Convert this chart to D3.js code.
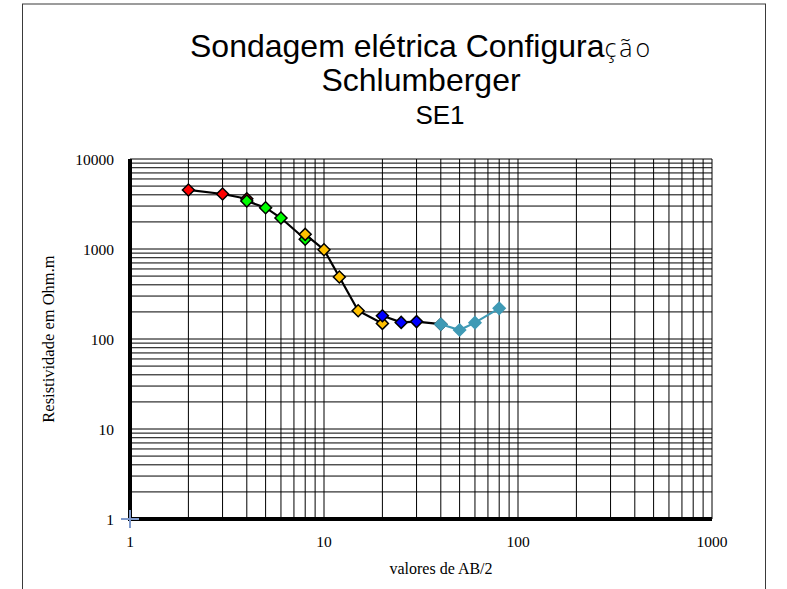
<!DOCTYPE html>
<html>
<head>
<meta charset="utf-8">
<script src="https://cdn.jsdelivr.net/npm/d3@7"></script>
<style>
  html, body { margin: 0; padding: 0; background: #fff; }
  svg { display: block; }
</style>
</head>
<body>
<svg id="chart" width="787" height="589"></svg>
<script>
// ---- data ----
const titleLines = ["Sondagem elétrica Configura", "Schlumberger", "SE1"];
const titleTail = "ção";
const xTickLabels = [1, 10, 100, 1000];
const yTickLabels = [1, 10, 100, 1000, 10000];
const xLabel = "valores de AB/2";
const yLabel = "Resistividade  em Ohm.m";

const redX = [2, 3, 4];
const redY = [4530, 4085, 3620];
const greenX = [4, 5, 6, 8];
const greenY = [3415, 2877, 2208, 1283];
const yellowX = [8, 10, 12, 15, 20];
const yellowY = [1456, 982, 489, 206, 149];
const blueX = [20, 25, 30, 40];
const blueY = [181, 153, 156, 146];
const tealX = [40, 50, 60, 80];
const tealY = [146, 126, 152, 219];
const originX = [1];
const originY = [1];

const svg = d3.select("#chart");

// frame
svg.append("rect")
  .attr("x", 22.5).attr("y", 4).attr("width", 743).attr("height", 620)
  .attr("fill", "none").attr("stroke", "#3a3a3a").attr("stroke-width", 1);

const x = d3.scaleLog().domain([1, 1000]).range([130, 712]);
const y = d3.scaleLog().domain([1, 10000]).range([519, 159]);

// grid values (1..9 per decade)
const xGrid = [];
for (let p = 1; p <= 100; p *= 10) for (let m = 1; m <= 9; m++) xGrid.push(m * p);
xGrid.push(1000);
const yGrid = [];
for (let p = 1; p <= 1000; p *= 10) for (let m = 1; m <= 9; m++) yGrid.push(m * p);
yGrid.push(10000);

const grid = svg.append("g");
grid.selectAll("line.v").data(xGrid).join("line").attr("class", "v")
  .attr("x1", d => x(d)).attr("x2", d => x(d))
  .attr("y1", y(10000)).attr("y2", y(1))
  .attr("stroke", "#000").attr("stroke-width", 1);
grid.selectAll("line.h").data(yGrid).join("line").attr("class", "h")
  .attr("x1", x(1)).attr("x2", x(1000))
  .attr("y1", d => y(d)).attr("y2", d => y(d))
  .attr("stroke", "#000").attr("stroke-width", 1);

// axes (thick)
svg.append("line").attr("x1", x(1)).attr("x2", x(1)).attr("y1", y(10000)).attr("y2", y(1) + 2)
  .attr("stroke", "#000").attr("stroke-width", 4);
svg.append("line").attr("x1", x(1) - 2).attr("x2", x(1000)).attr("y1", y(1)).attr("y2", y(1))
  .attr("stroke", "#000").attr("stroke-width", 4);

// tick labels
const serif = "'Liberation Serif', 'Times New Roman', serif";
svg.append("g").selectAll("text").data(yTickLabels).join("text")
  .attr("x", 114).attr("y", d => y(d) + 6)
  .attr("text-anchor", "end")
  .attr("font-family", serif).attr("font-size", 15.5)
  .text(d => d);
svg.append("g").selectAll("text").data(xTickLabels).join("text")
  .attr("x", d => x(d)).attr("y", 547)
  .attr("text-anchor", "middle")
  .attr("font-family", serif).attr("font-size", 15.5)
  .text(d => d);

// axis titles
svg.append("text").attr("x", 441).attr("y", 574)
  .attr("text-anchor", "middle").attr("font-family", serif).attr("font-size", 16)
  .text(xLabel);
svg.append("text")
  .attr("transform", `translate(54,${(y(1) + y(10000)) / 2}) rotate(-90)`)
  .attr("text-anchor", "middle").attr("font-family", serif).attr("font-size", 16.5)
  .text(yLabel);

// title
const sans = "'Liberation Sans', Arial, sans-serif";
const t1 = svg.append("text").attr("x", 190).attr("y", 57)
  .attr("text-anchor", "start").attr("font-family", sans).attr("font-size", 32);
t1.append("tspan").text(titleLines[0]);
t1.append("tspan").attr("font-family", "'Open Sans', 'DejaVu Sans', sans-serif").attr("font-weight", 300)
  .attr("font-size", 25).attr("letter-spacing", 3).text(titleTail);
svg.append("text").attr("x", 421).attr("y", 91)
  .attr("text-anchor", "middle").attr("font-family", sans).attr("font-size", 32)
  .text(titleLines[1]);
svg.append("text").attr("x", 440).attr("y", 124)
  .attr("text-anchor", "middle").attr("font-family", sans).attr("font-size", 26)
  .text(titleLines[2]);

// series
const series = [
  { xs: redX, ys: redY, fill: "#FF0000", line: "#000", outline: "#000" },
  { xs: greenX, ys: greenY, fill: "#00FF00", line: "#000", outline: "#000" },
  { xs: yellowX, ys: yellowY, fill: "#FFC000", line: "#000", outline: "#000" },
  { xs: blueX, ys: blueY, fill: "#0000FF", line: "#000", outline: "#000" },
  { xs: tealX, ys: tealY, fill: "#3F9AB5", line: "#3F9AB5", outline: "#3F9AB5" }
];
const lineGen = d3.line().x(d => x(d[0])).y(d => y(d[1]));

series.forEach(s => {
  const pts = s.xs.map((v, i) => [v, s.ys[i]]);
  const g = svg.append("g");
  g.append("path").datum(pts).attr("d", lineGen)
    .attr("fill", "none").attr("stroke", s.line).attr("stroke-width", 2.2);
  g.selectAll("path.m").data(pts).join("path").attr("class", "m")
    .attr("d", d3.symbol().type(d3.symbolSquare).size(72))
    .attr("transform", d => `translate(${x(d[0])},${y(d[1])}) rotate(45)`)
    .attr("fill", s.fill).attr("stroke", s.outline).attr("stroke-width", 1.5);
});

// origin "+" marker
svg.append("g").selectAll("path").data(originX.map((v, i) => [v, originY[i]])).join("path")
  .attr("transform", d => `translate(${x(d[0])},${y(d[1])})`)
  .attr("d", "M-9,0H9M0,-9V9")
  .attr("stroke", "#7F9ACD").attr("stroke-width", 2).attr("fill", "none");
</script>
</body>
</html>
